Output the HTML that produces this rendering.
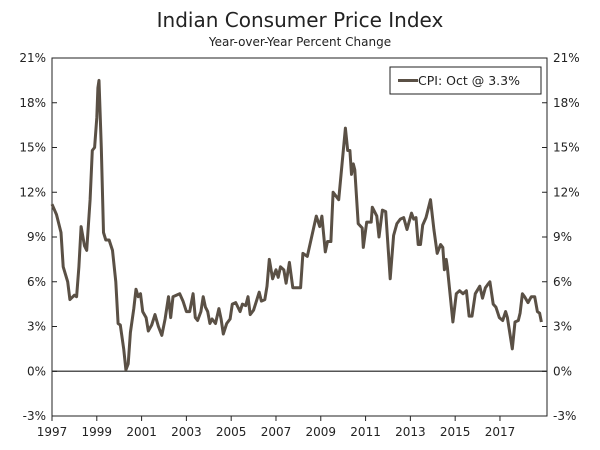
<!DOCTYPE html>
<html><head><meta charset="utf-8"><style>
body{margin:0;background:#fff;width:600px;height:446px;overflow:hidden;font-family:"DejaVu Sans","Liberation Sans",sans-serif}
svg text{font-family:"DejaVu Sans","Liberation Sans",sans-serif;fill:#222}
</style></head><body>
<svg id="chart" width="600" height="446">
<text x="300" y="27" text-anchor="middle" font-size="20">Indian Consumer Price Index</text>
<text x="300" y="46" text-anchor="middle" font-size="12">Year-over-Year Percent Change</text>
<g id="axes"></g>
<path id="line" fill="none" stroke="#5a5045" stroke-width="3" stroke-linejoin="round"/>
<g>
<rect x="390" y="67" width="151" height="27" fill="#fff" stroke="#222" stroke-width="1"/>
<line x1="398" y1="80.5" x2="418" y2="80.5" stroke="#5a5045" stroke-width="3"/>
<text x="418" y="85" font-size="12.5">CPI: Oct @ 3.3%</text>
</g>
</svg>
<script>
const years=[1997,1997.2,1997.4,1997.5,1997.7,1997.8,1998.0,1998.1,1998.2,1998.3,1998.45,1998.55,1998.7,1998.8,1998.9,1999.0,1999.05,1999.1,1999.2,1999.3,1999.4,1999.55,1999.7,1999.85,1999.95,2000.05,2000.2,2000.3,2000.4,2000.5,2000.65,2000.75,2000.85,2000.95,2001.05,2001.2,2001.3,2001.45,2001.6,2001.75,2001.9,2002.05,2002.2,2002.3,2002.4,2002.55,2002.7,2002.85,2003.0,2003.15,2003.3,2003.4,2003.5,2003.65,2003.75,2003.85,2003.95,2004.05,2004.15,2004.3,2004.45,2004.55,2004.65,2004.8,2004.95,2005.05,2005.2,2005.4,2005.5,2005.65,2005.75,2005.85,2006.0,2006.15,2006.25,2006.35,2006.5,2006.6,2006.7,2006.85,2007.0,2007.1,2007.2,2007.35,2007.45,2007.6,2007.75,2008.1,2008.2,2008.4,2008.8,2008.95,2009.05,2009.2,2009.3,2009.45,2009.55,2009.8,2010.1,2010.2,2010.3,2010.37,2010.45,2010.52,2010.67,2010.85,2010.9,2011.05,2011.25,2011.3,2011.5,2011.6,2011.75,2011.9,2012.1,2012.25,2012.4,2012.55,2012.7,2012.85,2013.05,2013.15,2013.25,2013.35,2013.45,2013.55,2013.7,2013.9,2014.05,2014.2,2014.35,2014.45,2014.52,2014.6,2014.65,2014.9,2015.05,2015.2,2015.35,2015.5,2015.62,2015.75,2015.9,2016.1,2016.22,2016.35,2016.45,2016.55,2016.7,2016.82,2016.97,2017.12,2017.25,2017.33,2017.55,2017.67,2017.82,2017.9,2018.0,2018.1,2018.25,2018.4,2018.55,2018.67,2018.77,2018.85];
const values=[11.2,10.5,9.3,7.0,6.0,4.8,5.1,5.0,7.0,9.7,8.4,8.1,11.5,14.8,15.0,17.0,19.0,19.5,15.0,9.3,8.8,8.8,8.1,6.0,3.2,3.1,1.5,0.1,0.5,2.6,4.2,5.5,5.0,5.2,4.0,3.6,2.7,3.1,3.8,3.0,2.4,3.5,5.0,3.6,5.0,5.1,5.2,4.7,4.0,4.0,5.2,3.6,3.4,4.0,5.0,4.3,4.0,3.2,3.5,3.2,4.2,3.5,2.5,3.2,3.5,4.5,4.6,4.0,4.5,4.4,5.0,3.8,4.1,4.8,5.3,4.7,4.8,5.7,7.5,6.2,6.8,6.3,7.0,6.8,5.9,7.3,5.6,5.6,7.9,7.7,10.4,9.7,10.4,8.0,8.7,8.7,12.0,11.5,16.3,14.8,14.8,13.2,13.9,13.5,9.9,9.6,8.3,10.0,10.0,11.0,10.4,9.0,10.8,10.7,6.2,9.1,9.9,10.2,10.3,9.5,10.6,10.2,10.3,8.5,8.5,9.8,10.3,11.5,9.5,7.9,8.5,8.3,6.8,7.5,7.0,3.3,5.2,5.4,5.2,5.4,3.7,3.7,5.2,5.7,4.9,5.6,5.8,6.0,4.5,4.3,3.6,3.4,4.0,3.6,1.5,3.3,3.4,3.9,5.2,5.0,4.6,5.0,5.0,4.0,3.9,3.3];
const yTicks=[-3,0,3,6,9,12,15,18,21];
const xTicks=[1997,1999,2001,2003,2005,2007,2009,2011,2013,2015,2017];
const L=52,R=547,T=58,B=416,x0=1997,x1=2019.1,yMin=-3,yMax=21;
const X=v=>L+(v-x0)/(x1-x0)*(R-L);
const Y=v=>B-(v-yMin)/(yMax-yMin)*(B-T);
const NS="http://www.w3.org/2000/svg";
const ax=document.getElementById('axes');
function el(t,a){const e=document.createElementNS(NS,t);for(const k in a)e.setAttribute(k,a[k]);ax.appendChild(e);return e;}
let f=el('rect',{x:L,y:T,width:R-L,height:B-T,fill:'none',stroke:'#222','stroke-width':1});


let z=el('line',{x1:L,x2:R,y1:Y(0),y2:Y(0),stroke:'#555','stroke-width':1.5});


yTicks.forEach(v=>{
 el('line',{x1:L,x2:L+5,y1:Y(v),y2:Y(v),stroke:'#222'});
 el('line',{x1:R-5,x2:R,y1:Y(v),y2:Y(v),stroke:'#222'});
 let a=el('text',{x:L-6,y:Y(v)+4,'text-anchor':'end','font-size':12});a.textContent=v+'%';
 
 
 let b=el('text',{x:R+6,y:Y(v)+4,'text-anchor':'start','font-size':12});b.textContent=v+'%';
 
 
});
xTicks.forEach(v=>{
 el('line',{x1:X(v),x2:X(v),y1:B,y2:B+5,stroke:'#222'});
 let t=el('text',{x:X(v),y:B+20,'text-anchor':'middle','font-size':12});t.textContent=v;
 
 
});
document.getElementById('line').setAttribute('d',years.map((y,i)=>(i?'L':'M')+X(y).toFixed(1)+','+Y(values[i]).toFixed(1)).join(''));
</script>
</body></html>
